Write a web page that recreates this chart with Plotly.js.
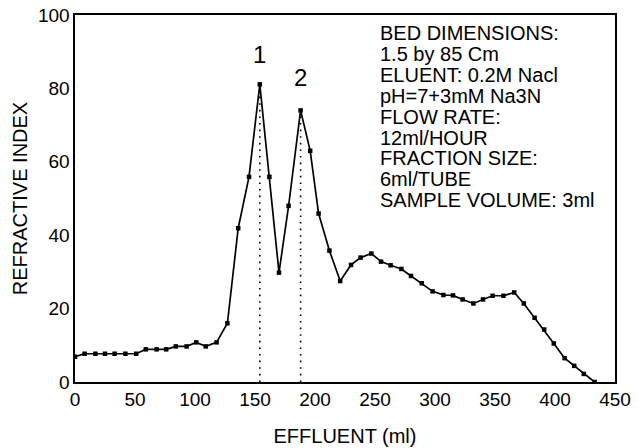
<!DOCTYPE html>
<html>
<head>
<meta charset="utf-8">
<script src="https://cdn.plot.ly/plotly-3.0.1.min.js"></script>
<style>html,body{margin:0;padding:0;background:#fff;}#chart{width:642px;height:448px;}</style>
</head>
<body>
<div id="chart"></div>
<script>
// Effluent volume (ml) and refractive index readings
const effluent = [0,8,17,25,33,42,51,59,68,76,84,93,101,109,118,127,136,145,154,162,170,178,188,196,203,212,221,230,238,247,255,263,272,280,289,298,307,315,323,332,340,348,357,366,374,383,391,399,408,416,424,433];
const refractiveIndex = [6.9,7.7,7.7,7.7,7.7,7.7,7.7,8.9,8.9,8.9,9.7,9.7,10.8,9.7,10.8,16.0,41.9,55.9,81.1,55.9,29.8,48.0,74.0,63.0,45.9,35.8,27.5,31.9,33.9,35.0,32.8,31.8,30.8,28.9,26.9,24.7,23.7,23.6,22.5,21.4,22.5,23.5,23.5,24.4,21.4,17.5,14.3,10.5,6.5,4.4,2.2,0];
// Peaks (index into the series) and their labels
const peakIndex = [18, 22];
const peakLabels = ['1', '2'];
// Conditions text block
const infoLines = [
  'BED DIMENSIONS:',
  '1.5 by 85 Cm',
  'ELUENT: 0.2M Nacl',
  'pH=7+3mM Na3N',
  'FLOW RATE:',
  '12ml/HOUR',
  'FRACTION SIZE:',
  '6ml/TUBE',
  'SAMPLE VOLUME: 3ml'
];
const xTicks = [0,50,100,150,200,250,300,350,400,450];
const yTicks = [0,20,40,60,80,100];

const FONT = 'Liberation Sans, Arial, Helvetica, sans-serif';

const traces = [];
peakIndex.forEach(function(i){
  traces.push({
    x: [effluent[i], effluent[i]],
    y: [0, refractiveIndex[i]],
    mode: 'lines',
    line: {color: '#000', width: 1.6, dash: '1.6px,5px'},
    hoverinfo: 'skip',
    showlegend: false
  });
});
traces.push({
  x: effluent,
  y: refractiveIndex,
  mode: 'lines+markers',
  line: {color: '#000', width: 1.7},
  marker: {color: '#000', size: 4.5, symbol: 'square'},
  showlegend: false
});

const annotations = [];
const peakShift = [30, 33];
peakIndex.forEach(function(i, k){
  annotations.push({
    x: effluent[i], y: refractiveIndex[i], xref: 'x', yref: 'y',
    text: peakLabels[k], showarrow: false,
    yshift: peakShift[k], font: {family: FONT, size: 24, color: '#000'}
  });
});
infoLines.forEach(function(t, k){
  annotations.push({
    x: 0.562, y: 1 - (18 + 20.9 * k) / 367, xref: 'paper', yref: 'paper',
    xanchor: 'left', yanchor: 'middle', text: t, showarrow: false,
    font: {family: FONT, size: 20, color: '#000'}
  });
});

const layout = {
  width: 642, height: 448,
  margin: {l: 75, r: 27, t: 15, b: 66},
  paper_bgcolor: '#fff', plot_bgcolor: '#fff',
  font: {family: FONT, color: '#000'},
  xaxis: {
    range: [0, 450], tickvals: xTicks, ticktext: xTicks.map(String),
    showgrid: false, zeroline: false, ticks: '',
    showline: true, mirror: true, linecolor: '#000', linewidth: 1.6,
    tickfont: {family: FONT, size: 19, color: '#000'},
    title: {text: 'EFFLUENT (ml)', font: {family: FONT, size: 20, color: '#000'}, standoff: 19}
  },
  yaxis: {
    range: [0, 100], tickvals: yTicks, ticktext: yTicks.map(String),
    showgrid: false, zeroline: false, ticks: '',
    showline: true, mirror: true, linecolor: '#000', linewidth: 1.6,
    tickfont: {family: FONT, size: 19, color: '#000'},
    title: {text: 'REFRACTIVE INDEX', font: {family: FONT, size: 20, color: '#000'}, standoff: 5}
  },
  annotations: annotations
};

Plotly.newPlot('chart', traces, layout, {displayModeBar: false, staticPlot: true});
</script>
</body>
</html>
